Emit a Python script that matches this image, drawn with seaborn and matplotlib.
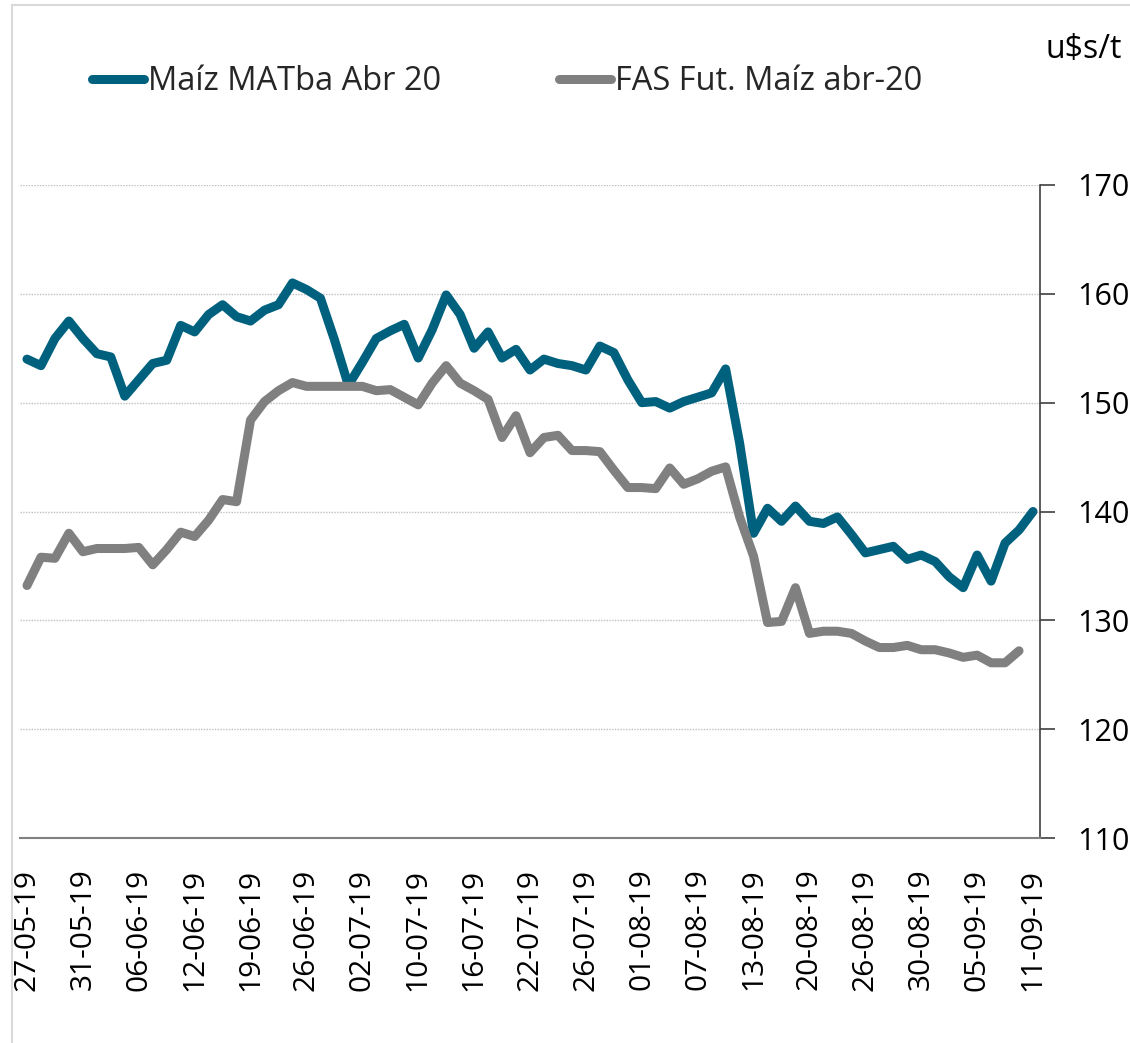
import numpy as np
import pandas as pd
import matplotlib
matplotlib.use("Agg")
import matplotlib.pyplot as plt
from matplotlib.lines import Line2D
from matplotlib.ticker import FixedLocator, NullFormatter
import seaborn as sns

# ---------------- data ----------------
dates = [
    "27-05-19", "28-05-19", "29-05-19", "30-05-19", "31-05-19",
    "03-06-19", "04-06-19", "05-06-19", "06-06-19", "07-06-19", "10-06-19", "11-06-19",
    "12-06-19", "13-06-19", "14-06-19", "18-06-19", "19-06-19", "21-06-19", "24-06-19",
    "25-06-19", "26-06-19", "27-06-19", "28-06-19",
    "01-07-19", "02-07-19", "03-07-19", "04-07-19", "05-07-19", "10-07-19", "11-07-19",
    "12-07-19", "15-07-19", "16-07-19", "17-07-19", "18-07-19", "19-07-19", "22-07-19",
    "23-07-19", "24-07-19", "25-07-19", "26-07-19", "29-07-19", "30-07-19", "31-07-19",
    "01-08-19", "02-08-19", "05-08-19", "06-08-19", "07-08-19", "08-08-19", "09-08-19",
    "12-08-19", "13-08-19", "14-08-19", "15-08-19", "16-08-19", "20-08-19", "21-08-19",
    "22-08-19", "23-08-19", "26-08-19", "27-08-19", "28-08-19", "29-08-19", "30-08-19",
    "02-09-19", "03-09-19", "04-09-19", "05-09-19", "06-09-19", "09-09-19", "10-09-19",
    "11-09-19",
]

maiz_matba = [
    154.0, 153.4, 155.9, 157.5, 155.9, 154.5, 154.2, 150.6, 152.1, 153.6,
    153.9, 157.1, 156.5, 158.1, 159.0, 157.9, 157.5, 158.5, 159.0, 161.0,
    160.4, 159.6, 155.8, 151.6, 153.7, 155.9, 156.6, 157.2, 154.1, 156.7,
    159.9, 158.1, 155.0, 156.5, 154.1, 154.9, 153.0, 154.0, 153.6, 153.4,
    153.0, 155.2, 154.6, 152.1, 150.0, 150.1, 149.5, 150.1, 150.5, 150.9,
    153.1, 146.3, 138.0, 140.3, 139.1, 140.5, 139.1, 138.9, 139.5, 137.9,
    136.2, 136.5, 136.8, 135.6, 136.0, 135.4, 134.0, 133.0, 136.0, 133.6,
    137.1, 138.3, 140.0,
]

fas_fut = [
    133.2, 135.8, 135.7, 138.0, 136.3, 136.6, 136.6, 136.6, 136.7, 135.1,
    136.5, 138.1, 137.7, 139.2, 141.1, 140.9, 148.4, 150.1, 151.1, 151.85,
    151.5, 151.5, 151.5, 151.5, 151.5, 151.1, 151.2, 150.5, 149.8, 151.8,
    153.4, 151.8, 151.1, 150.3, 146.8, 148.8, 145.4, 146.8, 147.0, 145.6,
    145.6, 145.5, 143.8, 142.2, 142.2, 142.1, 144.0, 142.5, 143.0, 143.7,
    144.1, 139.5, 135.9, 129.8, 129.9, 133.0, 128.8, 129.0, 129.0, 128.8,
    128.1, 127.5, 127.5, 127.7, 127.3, 127.3, 127.0, 126.6, 126.8, 126.1,
    126.1, 127.2, np.nan,
]

series_names = ["Maíz MATba Abr 20", "FAS Fut. Maíz abr-20"]
series_colors = ["#00617E", "#808080"]
y_ticks = [110, 120, 130, 140, 150, 160, 170]
unit_label = "u$s/t"
label_step = 4

# ---------------- style ----------------
sns.set_style("white")
plt.rcParams["font.family"] = ["Open Sans", "DejaVu Sans"]

W, H = 1130, 1043
fig = plt.figure(figsize=(W / 100, H / 100), dpi=100)

ax_l, ax_r, ax_t, ax_b = 20, 1040, 185, 838
ax = fig.add_axes([ax_l / W, 1 - ax_b / H, (ax_r - ax_l) / W, (ax_b - ax_t) / H])

n = len(dates)
df = pd.DataFrame({
    "idx": list(range(n)) * 2,
    "value": maiz_matba + fas_fut,
    "serie": [series_names[0]] * n + [series_names[1]] * n,
})

sns.lineplot(data=df, x="idx", y="value", hue="serie", hue_order=series_names,
             palette=dict(zip(series_names, series_colors)), linewidth=6.5,
             ax=ax, legend=False)
for ln in ax.lines:
    ln.set_solid_capstyle("round")
    ln.set_solid_joinstyle("round")

ax.set_xlim(-0.5, n - 0.5)
ax.set_ylim(y_ticks[0], y_ticks[-1])

# grid
for yv in y_ticks[1:]:
    ax.axhline(yv, color="#BFBFBF", lw=1.0, ls=(0, (1, 1)), zorder=0)

# spines
for s in ["top", "left"]:
    ax.spines[s].set_visible(False)
ax.spines["bottom"].set_color("#808080")
ax.spines["bottom"].set_linewidth(1.5)
ax.spines["right"].set_color("#404040")
ax.spines["right"].set_linewidth(1.2)

# y axis on right
ax.yaxis.tick_right()
ax.set_yticks(y_ticks)
ax.set_yticklabels([str(v) for v in y_ticks])
ax.tick_params(axis="y", which="major", direction="out", length=11, width=1.2,
               color="#404040", pad=16, labelsize=22, labelcolor="#000000")

# x axis: minor ticks at category boundaries, labels every 4 categories
ax.set_xticks(list(range(0, n, label_step)))
ax.set_xticklabels([dates[i] for i in range(0, n, label_step)], rotation=90)
ax.xaxis.set_minor_locator(FixedLocator([i - 0.5 for i in range(n + 1)]))
ax.xaxis.set_minor_formatter(NullFormatter())
ax.tick_params(axis="x", which="major", length=0, pad=22, labelsize=21.5,
               labelcolor="#000000")
ax.tick_params(axis="x", which="minor", direction="out", length=8, width=1.0,
               color="#808080")
ax.set_xlabel("")
ax.set_ylabel("")

# legend
handles = [Line2D([0], [0], color=c, lw=6.5, solid_capstyle="round") for c in series_colors]
fig.legend(handles, series_names, loc="center left",
           bbox_to_anchor=(92 / W, 1 - 82 / H), bbox_transform=fig.transFigure,
           ncol=2, frameon=False, fontsize=23.5, handlelength=1.6,
           handletextpad=0.12, columnspacing=3.6, borderaxespad=0, borderpad=0)

# unit label
fig.text(1122 / W, 1 - 49 / H, unit_label, ha="right", va="center", fontsize=23,
         color="#000000")

# light border on left and top
fig.add_artist(Line2D([11.5 / W, 11.5 / W], [0, 1 - 5 / H], transform=fig.transFigure,
                      color="#D9D9D9", lw=1.5))
fig.add_artist(Line2D([11.5 / W, 1], [1 - 5 / H, 1 - 5 / H], transform=fig.transFigure,
                      color="#D9D9D9", lw=1.5))

fig.savefig("out.png", dpi=100, facecolor="white")
